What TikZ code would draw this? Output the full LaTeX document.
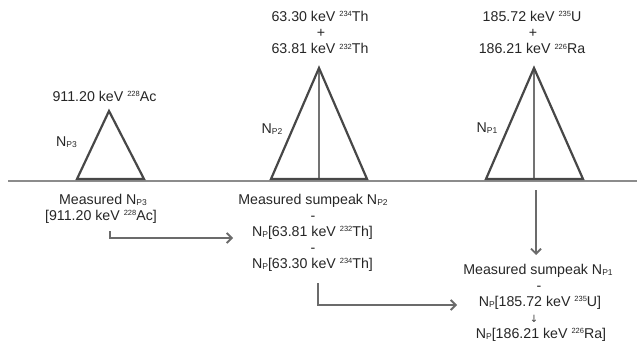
\documentclass[tikz,border=0pt]{standalone}
\usepackage{fontspec}
\setmainfont{Liberation Sans}
\newfontfamily\symfont{DejaVu Sans}
\usetikzlibrary{arrows.meta}
% small raised mass number and small lowered index
\newcommand\nuc[1]{\raisebox{5pt}{\fontsize{7.5}{8}\selectfont #1}}
\newcommand\lowidx[1]{\raisebox{-1pt}{\fontsize{8.5}{9}\selectfont #1}}
\begin{document}
\begin{tikzpicture}[x=1pt,y=-1pt,
  txt/.style={inner sep=0pt, anchor=base, font=\fontsize{14.2}{16}\selectfont, text=black!85},
  tinyarrow/.style={inner sep=0pt, anchor=base, font=\symfont\fontsize{10}{10}\selectfont, text=black!75},
  peak/.style={draw=black!72, line width=2.2pt, line join=miter},
  split/.style={draw=black!55, line width=2.5pt},
  axis/.style={draw=black!45, line width=1.1pt},
  flow/.style={draw=black!58, line width=1.8pt, -{Straight Barb[length=5pt,width=10pt]}},
]
\useasboundingbox (0,0) rectangle (637,345);

% energy axis
\draw[axis] (8,181) -- (637,181);

% peak 3: single line
\coordinate (p3a) at (109,111);
\coordinate (p3l) at (77,179);
\coordinate (p3r) at (144,179);
\draw[peak] (p3l) -- (p3a) -- (p3r) -- cycle;

% peak 2: doublet
\coordinate (p2a) at (319,68);
\coordinate (p2l) at (271,179);
\coordinate (p2r) at (367,179);
\coordinate (p2b) at (319,180);
\draw[split] (p2a) -- (p2b);
\draw[peak] (p2l) -- (p2a) -- (p2r) -- cycle;

% peak 1: doublet
\coordinate (p1a) at (534,68);
\coordinate (p1l) at (486,179);
\coordinate (p1r) at (583,179);
\coordinate (p1b) at (534,180);
\draw[split] (p1a) -- (p1b);
\draw[peak] (p1l) -- (p1a) -- (p1r) -- cycle;

% labels above the peaks
\node[txt] (e3)  at (104.5,101) {911.20 keV \nuc{228}Ac};
\node[txt] (n3)  at (66.5,146) {N\lowidx{P3}};

\node[txt] (e2a) at (320,22) {63.30 keV \nuc{234}Th};
\node[txt] (e2p) at (321,38) {+};
\node[txt] (e2b) at (320,54) {63.81 keV \nuc{232}Th};
\node[txt] (n2)  at (272,133) {N\lowidx{P2}};

\node[txt] (e1a) at (532,22) {185.72 keV \nuc{235}U};
\node[txt] (e1p) at (533,38) {+};
\node[txt] (e1b) at (532,54) {186.21 keV \nuc{226}Ra};
\node[txt] (n1)  at (487,132) {N\lowidx{P1}};

% net area of peak 3
\node[txt] (m3a) at (103,204) {Measured N\lowidx{P3}};
\node[txt] (m3b) at (101,220) {[911.20 keV \nuc{228}Ac]};

% net area of peak 2
\node[txt] (m2a) at (313,204) {Measured sumpeak N\lowidx{P2}};
\node[txt] (m2b) at (313,220) {-};
\node[txt] (m2c) at (312.5,236) {N\lowidx{P}[63.81 keV \nuc{232}Th]};
\node[txt] (m2d) at (313,252) {-};
\node[txt] (m2e) at (312.5,268) {N\lowidx{P}[63.30 keV \nuc{234}Th]};

% net area of peak 1
\node[txt] (m1a) at (538,274) {Measured sumpeak N\lowidx{P1}};
\node[txt] (m1b) at (539,290) {-};
\node[txt] (m1c) at (540,306) {N\lowidx{P}[185.72 keV \nuc{235}U]};
\node[tinyarrow] (m1d) at (534,322) {↓};
\node[txt] (m1e) at (541,338) {N\lowidx{P}[186.21 keV \nuc{226}Ra]};

% flow of the corrections
\coordinate (f1s) at (110,231);
\coordinate (f1e) at (233,238);
\coordinate (f2s) at (318,283);
\coordinate (f2e) at (457,305);
\coordinate (f3s) at (536,190);
\coordinate (f3e) at (536,255);
\draw[flow] (f1s) |- (f1e);
\draw[flow] (f2s) |- (f2e);
\draw[flow] (f3s) -- (f3e);
\end{tikzpicture}
\end{document}
